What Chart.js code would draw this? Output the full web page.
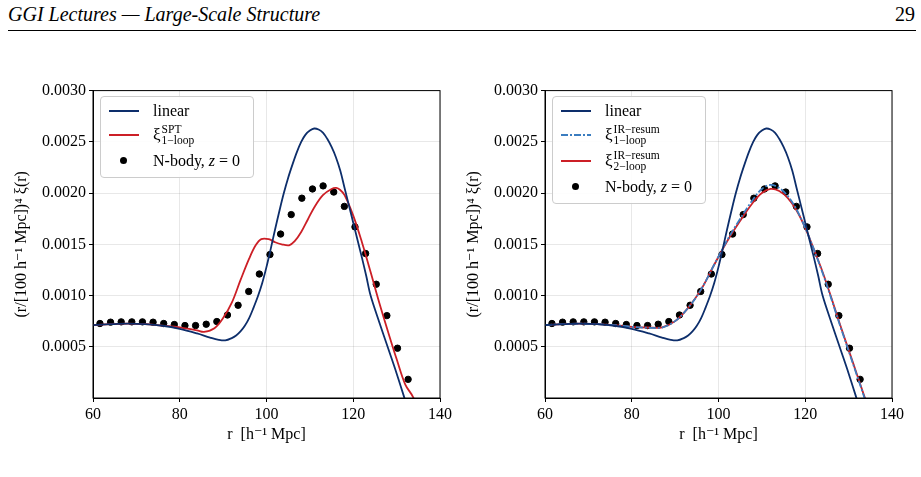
<!DOCTYPE html>
<html>
<head>
<meta charset="utf-8">
<script src="https://cdn.jsdelivr.net/npm/chart.js@4"></script>
<style>
  body { margin: 0; background: #fff; width: 921px; height: 477px; overflow: hidden; position: relative; font-family: "Liberation Serif", "DejaVu Serif", serif; }
  .hdr { position: absolute; top: 3px; font-size: 20px; font-style: italic; }
  .rule { position: absolute; left: 8px; top: 30px; width: 908px; height: 1px; background: #000; }
  .wrap { position: absolute; top: 78px; width: 445px; height: 370px; }
  .leg { position: absolute; background: rgba(255,255,255,0.9); border: 1px solid #ccc; border-radius: 4px; font-size: 16px; }
  .row { position: absolute; left: 8px; height: 24px; display: flex; align-items: center; white-space: nowrap; }
  .sw { width: 30px; margin-right: 14px; position: relative; height: 10px; }
  .sw i { position: absolute; left: 0; right: 0; top: 4px; height: 2px; }
  .xi { display: inline-flex; align-items: center; font-size: 17px; }
  .xi span.s { display: inline-flex; flex-direction: column; font-size: 11.5px; line-height: 11px; margin-left: 1px; }
</style>
</head>
<body>
<div class="hdr" style="left:8px">GGI Lectures — Large-Scale Structure</div>
<div class="hdr" style="right:6px;font-style:normal">29</div>
<div class="rule"></div>

<div class="wrap" style="left:10px"><canvas id="c1"></canvas></div>
<div class="wrap" style="left:462px"><canvas id="c2"></canvas></div>

<div class="leg" style="left:100px;top:96px;width:152px;height:80px">
  <div class="row" style="top:2px"><div class="sw"><i style="background:#0d2e6b"></i></div>linear</div>
  <div class="row" style="top:26px"><div class="sw"><i style="background:#cc1f26"></i></div><span class="xi">ξ<span class="s"><span>SPT</span><span>1−loop</span></span></span></div>
  <div class="row" style="top:52px"><div class="sw"><b style="position:absolute;left:11px;top:1px;width:7px;height:7px;border-radius:50%;background:#000"></b></div>N-body,&nbsp;<i>z</i>&nbsp;= 0</div>
</div>
<div class="leg" style="left:552px;top:96px;width:152px;height:106px">
  <div class="row" style="top:2px"><div class="sw"><i style="background:#0d2e6b"></i></div>linear</div>
  <div class="row" style="top:26px"><div class="sw"><i style="background:repeating-linear-gradient(90deg,#3b7dc0 0 7px,transparent 7px 9px,#3b7dc0 9px 11px,transparent 11px 13px)"></i></div><span class="xi">ξ<span class="s"><span>IR−resum</span><span>1−loop</span></span></span></div>
  <div class="row" style="top:52px"><div class="sw"><i style="background:#cc1f26"></i></div><span class="xi">ξ<span class="s"><span>IR−resum</span><span>2−loop</span></span></span></div>
  <div class="row" style="top:78px"><div class="sw"><b style="position:absolute;left:11px;top:1px;width:7px;height:7px;border-radius:50%;background:#000"></b></div>N-body,&nbsp;<i>z</i>&nbsp;= 0</div>
</div>

<script>
const nbodyR = [61.6,64.05,66.5,68.95,71.4,73.85,76.3,78.75,81.2,83.65,86.1,88.55,91.0,93.45,95.9,98.35,100.8,103.25,105.7,108.15,110.6,113.05,115.5,117.95,120.4,122.85,125.3,127.75,130.2,132.65];
const nbodyXi = [0.000727,0.00074,0.000743,0.000743,0.000743,0.00074,0.000727,0.000717,0.000707,0.000707,0.00072,0.000746,0.00081,0.000905,0.00104,0.00121,0.0014,0.0016,0.00179,0.00195,0.00204,0.00207,0.00201,0.00187,0.00167,0.00141,0.00111,0.000804,0.000486,0.000182];

const linR = [60,64,68,72,76,80,84,87,89,90.5,92,93,94,95,96,97,98,99,100,101,102,103,104,105,106,107,108,109,110,111,112,113,114,115,116,117,118,119,120,121,122,123,124,126,128,130,131.8,134];
const linXi = [0.000712,0.00072,0.000725,0.00072,0.000705,0.000675,0.00063,0.00059,0.000568,0.000563,0.000585,0.00061,0.00065,0.000705,0.00078,0.00088,0.00099,0.00112,0.00128,0.00146,0.00165,0.00183,0.002,0.00215,0.00228,0.0024,0.0025,0.00257,0.00261,0.00263,0.00262,0.00259,0.00253,0.00245,0.00235,0.00222,0.00205,0.00188,0.00171,0.00154,0.00137,0.00119,0.001,0.00074,0.00049,0.00024,0,-0.0003];

const sptR = [60,64,68,72,76,80,84,85.6,88,90,92,94,96,97.5,98.8,100.5,102,103.5,105.2,106.5,108,109.5,111,113,115,116.1,117,118,120,122,124,126,128,130,132,133.9,137];
const sptXi = [0.000712,0.00072,0.000725,0.00072,0.000705,0.00069,0.00066,0.000645,0.00068,0.00078,0.00093,0.00115,0.00136,0.00149,0.00155,0.00155,0.00152,0.0015,0.00149,0.00153,0.00162,0.00174,0.00186,0.00198,0.00204,0.00205,0.00203,0.00198,0.00178,0.00152,0.00123,0.00093,0.00065,0.00038,0.00013,0,-0.0004];

const ir2R = [60,64,68,72,76,80,84,87,90,93,96,99,102,105,108,110,112,114,116,118,120,122,124,126,128,130,132,134,137];
const ir2Xi = [0.000712,0.00072,0.000725,0.00072,0.00071,0.000695,0.000688,0.00069,0.00075,0.00088,0.00106,0.0013,0.00153,0.00173,0.00191,0.002,0.00204,0.00202,0.00195,0.00183,0.00166,0.00145,0.00123,0.00098,0.00072,0.00047,0.00022,-0.00003,-0.0004];
const ir1Xi = [0.000712,0.00072,0.000725,0.00072,0.00071,0.000695,0.000685,0.000688,0.00075,0.00088,0.00106,0.0013,0.00154,0.00175,0.00194,0.00204,0.00208,0.00205,0.00197,0.00184,0.00166,0.00145,0.00122,0.00097,0.00071,0.00046,0.00021,-0.00004,-0.0004];

const xTicks = [60,80,100,120,140];
const yTicks = [0.0005,0.001,0.0015,0.002,0.0025,0.003];

const pts = (xs, ys) => xs.map((x, i) => ({ x, y: ys[i] }));
const font = { family: "'Liberation Serif', 'DejaVu Serif', serif", size: 16 };
const grid = { color: 'rgba(0,0,0,0.09)', tickColor: '#000', tickLength: 4 };

function makeChart(id, lines) {
  new Chart(document.getElementById(id), {
    type: 'scatter',
    data: {
      datasets: [
        ...lines.map(l => ({
          type: 'line', data: pts(l.r, l.xi), borderColor: l.color, borderWidth: 1.8,
          borderDash: l.dash || [], pointRadius: 0, tension: 0.35, fill: false
        })),
        { data: pts(nbodyR, nbodyXi), backgroundColor: '#000', borderColor: '#000', pointRadius: 3.2 }
      ]
    },
    options: {
      responsive: true, maintainAspectRatio: false, animation: false,
      layout: { padding: { right: 6, top: 4 } },
      plugins: { legend: { display: false }, tooltip: { enabled: false } },
      scales: {
        x: {
          type: 'linear', min: 60, max: 140,
          afterBuildTicks: s => { s.ticks = xTicks.map(v => ({ value: v })); },
          afterFit: s => { s.height = 50; },
          border: { color: '#000', width: 1 },
          grid,
          ticks: { font, color: '#000' },
          title: { display: true, text: 'r  [h⁻¹ Mpc]', font, color: '#000', padding: { top: 0, bottom: 4 } }
        },
        y: {
          min: 0, max: 0.003,
          afterBuildTicks: s => { s.ticks = yTicks.map(v => ({ value: v })); },
          afterFit: s => { s.width = 83; },
          border: { color: '#000', width: 1 },
          grid,
          ticks: { font, color: '#000', callback: v => v.toFixed(4) },
          title: { display: true, text: '(r/[100 h⁻¹ Mpc])⁴ ξ(r)', font, color: '#000', padding: 2 }
        }
      }
    },
    plugins: [{
      id: 'frame',
      afterDraw(c) {
        const a = c.chartArea, g = c.ctx;
        g.save(); g.strokeStyle = '#000'; g.lineWidth = 1;
        g.strokeRect(a.left, a.top, a.right - a.left, a.bottom - a.top);
        g.restore();
      }
    }]
  });
}

makeChart('c1', [
  { r: linR, xi: linXi, color: '#0d2e6b' },
  { r: sptR, xi: sptXi, color: '#cc1f26' }
]);
makeChart('c2', [
  { r: linR, xi: linXi, color: '#0d2e6b' },
  { r: ir2R, xi: ir1Xi, color: '#3b7dc0', dash: [7, 2, 2, 2] },
  { r: ir2R, xi: ir2Xi, color: '#cc1f26' }
]);
</script>
</body>
</html>
